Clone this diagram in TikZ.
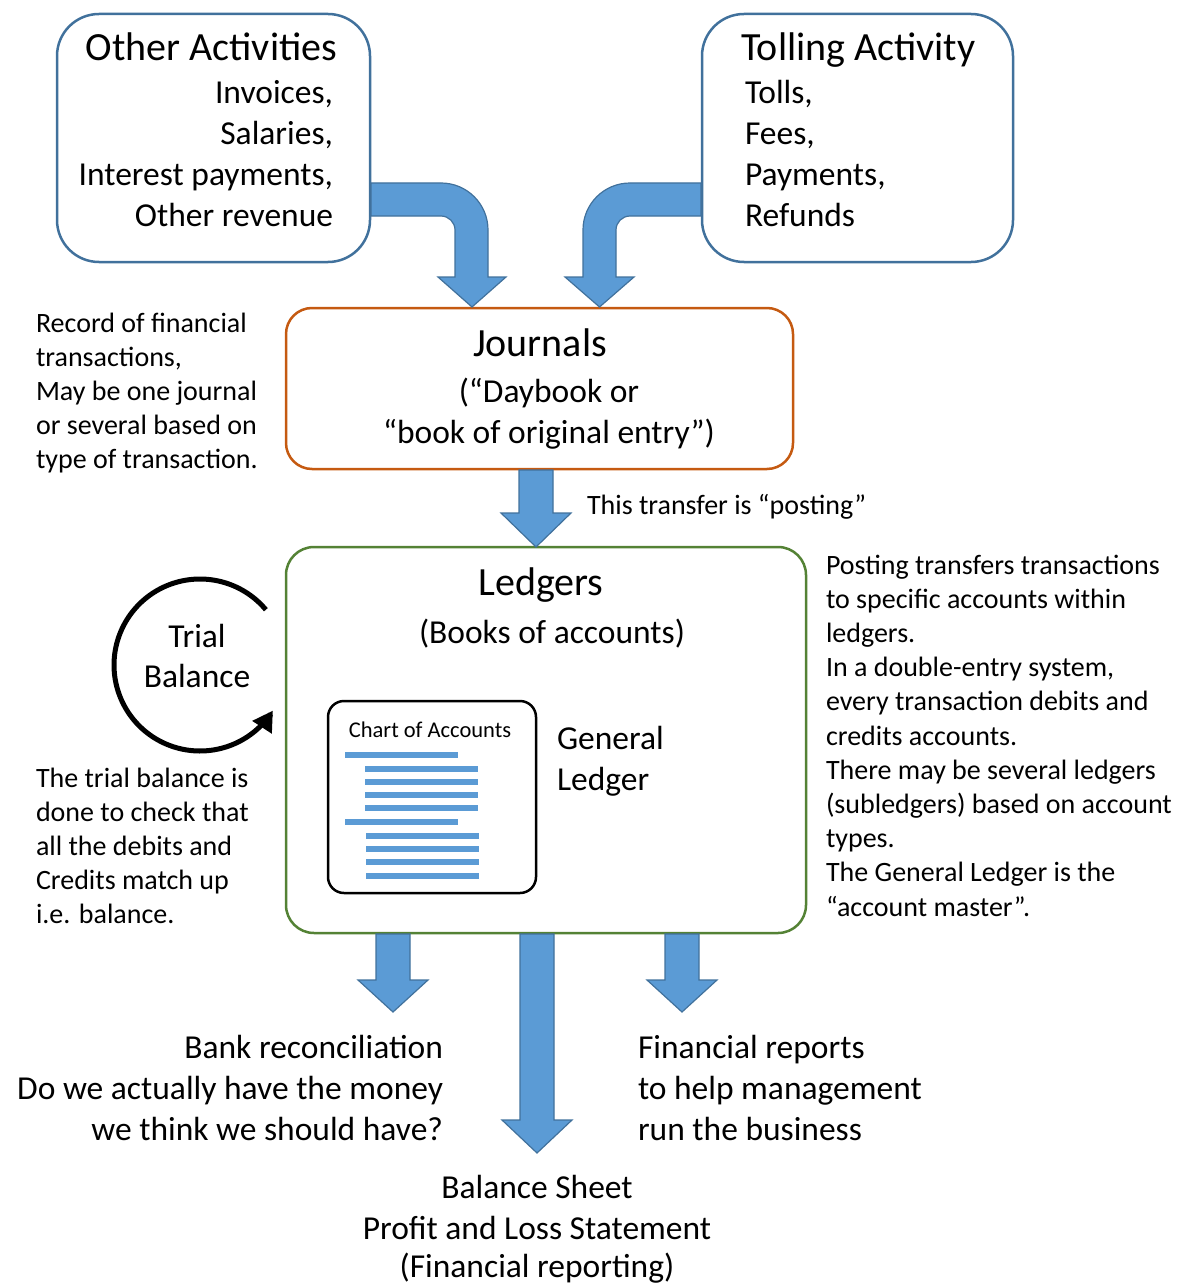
\documentclass[tikz,border=0pt]{standalone}
\usepackage{fontspec}
\setmainfont{Carlito}
\usetikzlibrary{arrows.meta}
\definecolor{boxblue}{HTML}{41719C}
\definecolor{arrowfill}{HTML}{5B9BD5}
\definecolor{arrowline}{HTML}{41719C}
\definecolor{journalorange}{HTML}{C55A11}
\definecolor{ledgergreen}{HTML}{548235}
\newcommand\fsz[2]{\fontsize{#1}{#2}\selectfont}
% straight block arrow pointing down: centre x, top y, head start y, tip y
\newcommand\BlockDown[4]{%
  \filldraw[blockarrow] (#1-17,#2) -- (#1-17,#3) -- (#1-35,#3) -- (#1,#4)
    -- (#1+35,#3) -- (#1+17,#3) -- (#1+17,#2) -- cycle;}
\begin{document}
\begin{tikzpicture}[x=1pt,y=-1pt,
  every node/.style={inner sep=0pt, outer sep=0pt},
  actbox/.style={draw=boxblue, line width=2.5pt, rounded corners=42pt},
  journalbox/.style={draw=journalorange, line width=2.5pt, rounded corners=26pt},
  ledgerbox/.style={draw=ledgergreen, line width=2.5pt, rounded corners=28pt},
  chartbox/.style={draw=black, line width=2.5pt, rounded corners=16pt},
  blockarrow/.style={fill=arrowfill, draw=arrowline, line width=1.2pt, line join=miter},
  chartbar/.style={draw=arrowfill, line width=6pt},
  title/.style={font=\fsz{40}{48}},
  body/.style={font=\fsz{33.5}{41}},
  note/.style={font=\fsz{28}{34.2}},
]
\useasboundingbox (0,0) rectangle (1191,1284);

% --- boxes ---
\node[actbox, minimum width=313pt, minimum height=248pt] (other) at (213.5,138) {};
\node[actbox, minimum width=311pt, minimum height=248pt] (tolling) at (857.5,138) {};
\node[journalbox, minimum width=507pt, minimum height=161pt] (journals) at (539.5,388.5) {};
\node[ledgerbox, minimum width=520pt, minimum height=386pt] (ledgers) at (546,740) {};
\node[chartbox, minimum width=208pt, minimum height=192pt] (chart) at (432,797) {};

% --- box texts (multi-line nodes sit on the baseline of their last line) ---
\node[title, anchor=base east] (otherT) at (337,61) {Other Activities};
\node[body, anchor=base east, align=right] (otherL) at (333,226)
  {Invoices,\\Salaries,\\Interest payments,\\Other revenue};
\node[title, anchor=base west] (tollT) at (741,61) {Tolling Activity};
\node[body, anchor=base west, align=left] (tollL) at (745,226)
  {Tolls,\\Fees,\\Payments,\\Refunds};

\node[title, anchor=base] (journT) at (540,356) {Journals};
\node[body, anchor=base, align=center] (journL) at (549,443)
  {(“Daybook or\\“book of original entry”)};

\node[title, anchor=base] (ledgT) at (541,595) {Ledgers};
\node[body, anchor=base] (ledgL) at (552,643) {(Books of accounts)};
\node[body, anchor=base west, align=left] (genL) at (557,790) {General\\Ledger};
\node[font=\fsz{22.5}{27}, anchor=base] (chartT) at (430,737) {Chart of Accounts};

% --- chart of accounts bars ---
\foreach \yy/\xa/\xb in {755/345/458, 769/365/478, 782/365/478, 795/365/478, 808/365/478,
                         822/345/458, 836/366/479, 849/366/479, 862/366/479, 876/366/479}
  \draw[chartbar] (\xa,\yy) -- (\xb,\yy);

% --- bent arrows into the journals ---
\filldraw[blockarrow] (371,183) -- (441,183) .. controls (467,183) and (488,204) .. (488,230)
  -- (488,277) -- (506,277) -- (472,307) -- (438,277) -- (455,277) -- (455,230)
  .. controls (455,222.3) and (448.7,216) .. (441,216) -- (371,216) -- cycle;
\filldraw[blockarrow] (701,183) -- (630,183) .. controls (604,183) and (583,204) .. (583,230)
  -- (583,277) -- (565,277) -- (599.5,307) -- (634,277) -- (616,277) -- (616,230)
  .. controls (616,222.3) and (622.3,216) .. (630,216) -- (701,216) -- cycle;

% --- straight arrows ---
\BlockDown{536}{470}{513}{547}
\BlockDown{393}{934}{980}{1012}
\BlockDown{682}{934}{980}{1012}
\BlockDown{537}{934}{1120}{1153}

% --- notes ---
\node[note, anchor=base west] (postT) at (587,514) {This transfer is “posting”};
\node[note, anchor=base west, align=left] (recordT) at (36,468.8)
  {Record of financial\\transactions,\\May be one journal\\or several based on\\type of transaction.};
\node[note, anchor=base west, align=left] (trialT) at (36,923.8)
  {The trial balance is\\done to check that\\all the debits and\\Credits match up\\i.e. balance.};
\node[note, anchor=base west, align=left] (postingT) at (826,916)
  {Posting transfers transactions\\to specific accounts within\\ledgers.\\In a double-entry system,\\every transaction debits and\\credits accounts.\\There may be several ledgers\\(subledgers) based on account\\types.\\The General Ledger is the\\“account master”.};

% --- trial balance cycle ---
\node[font=\fsz{33.5}{40}, anchor=base, align=center] (trialB) at (197,687) {Trial\\Balance};
\draw[line width=5pt, -{Triangle[length=20pt,width=22pt]}]
  plot[domain=40:328, samples=80, smooth] ({200+86*cos(\x)},{665-86*sin(\x)});

% --- outputs ---
\node[body, anchor=base east, align=right] (bankT) at (443,1140)
  {Bank reconciliation\\Do we actually have the money\\we think we should have?};
\node[body, anchor=base west, align=left] (finT) at (638,1140)
  {Financial reports\\to help management\\run the business};
\node[body, anchor=base, align=center] (sheetT) at (537,1277)
  {Balance Sheet\\Profit and Loss Statement\\[-3pt](Financial reporting)};
\end{tikzpicture}
\end{document}
